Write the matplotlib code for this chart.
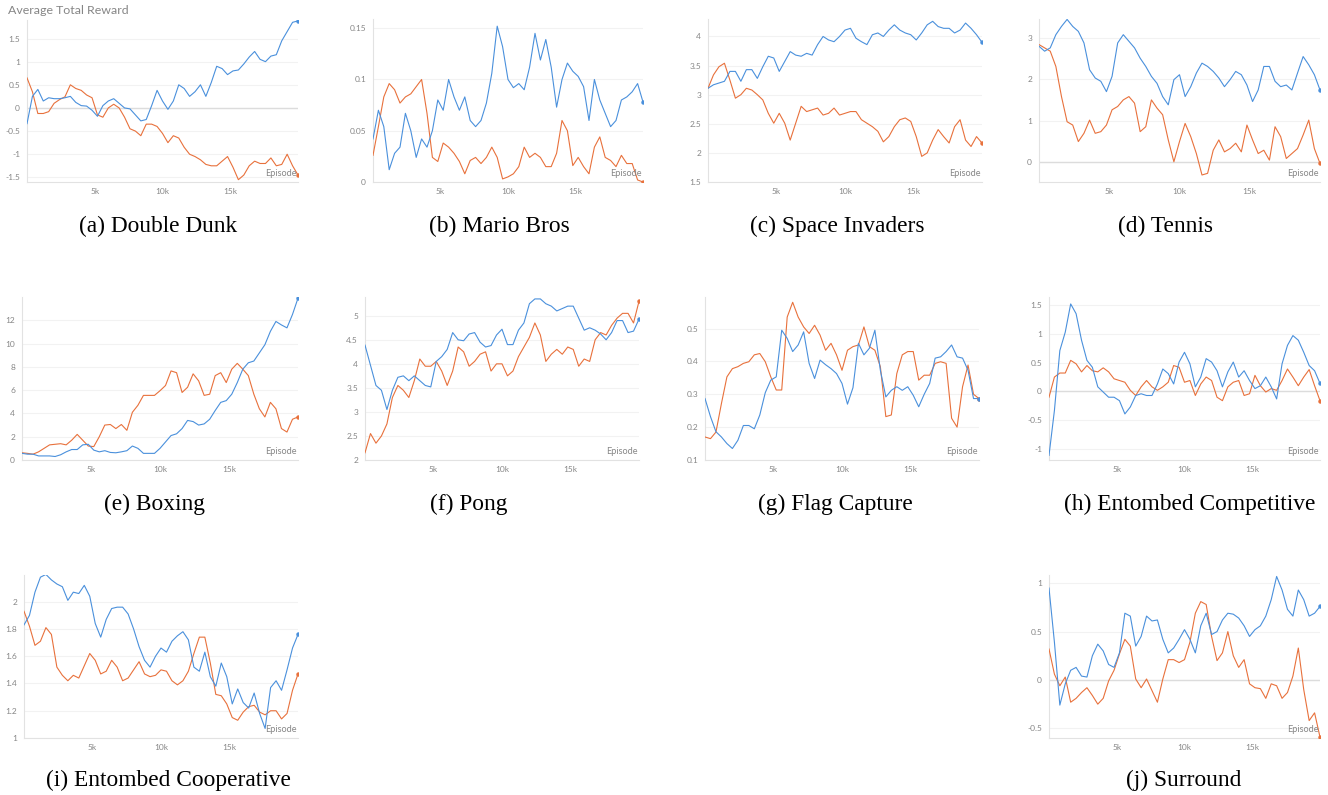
import matplotlib.pyplot as plt
import numpy as np

# episode axis shared by all runs (one logged point every 400 episodes)
episodes = np.arange(0, 20001, 400)

double_dunk_blue = [-0.34, 0.25, 0.40, 0.15, 0.22, 0.20, 0.20, 0.22, 0.25, 0.12,
                    0.05, 0.04, -0.05, -0.18, 0.05, 0.15, 0.20, 0.10, 0.0, -0.02,
                    -0.15, -0.28, -0.25, 0.05, 0.38, 0.15, -0.03, 0.15, 0.50, 0.42,
                    0.25, 0.35, 0.50, 0.25, 0.55, 0.90, 0.85, 0.72, 0.80, 0.82,
                    0.95, 1.10, 1.22, 1.05, 1.00, 1.12, 1.15, 1.45, 1.65, 1.85, 1.88]
double_dunk_orange = [0.65, 0.35, -0.12, -0.12, -0.08, 0.10, 0.18, 0.24, 0.50, 0.42,
                      0.38, 0.28, 0.22, -0.15, -0.20, 0.0, 0.08, 0.0, -0.20, -0.45,
                      -0.50, -0.60, -0.35, -0.35, -0.40, -0.55, -0.75, -0.60, -0.65, -0.85,
                      -1.00, -1.05, -1.12, -1.22, -1.25, -1.25, -1.15, -1.05, -1.28, -1.55,
                      -1.45, -1.25, -1.15, -1.20, -1.20, -1.08, -1.25, -1.22, -1.00, -1.25, -1.45]

mario_blue = [0.042, 0.07, 0.054, 0.012, 0.028, 0.034, 0.067, 0.05, 0.024, 0.042,
              0.034, 0.05, 0.08, 0.07, 0.10, 0.083, 0.07, 0.083, 0.06, 0.054,
              0.06, 0.077, 0.106, 0.152, 0.132, 0.10, 0.092, 0.096, 0.09, 0.112,
              0.145, 0.119, 0.139, 0.112, 0.073, 0.10, 0.116, 0.108, 0.103, 0.093,
              0.06, 0.10, 0.08, 0.067, 0.054, 0.06, 0.08, 0.083, 0.088, 0.096, 0.078]
mario_orange = [0.026, 0.054, 0.083, 0.096, 0.09, 0.077, 0.083, 0.086, 0.093, 0.10,
                0.067, 0.024, 0.02, 0.038, 0.034, 0.028, 0.02, 0.008, 0.021, 0.024,
                0.018, 0.024, 0.034, 0.024, 0.003, 0.005, 0.008, 0.015, 0.034, 0.024,
                0.028, 0.024, 0.015, 0.015, 0.028, 0.06, 0.05, 0.016, 0.024, 0.015,
                0.008, 0.034, 0.044, 0.024, 0.021, 0.015, 0.026, 0.018, 0.018, 0.002, 0.0]

invaders_blue = [3.11, 3.17, 3.20, 3.23, 3.40, 3.40, 3.23, 3.43, 3.43, 3.28,
                 3.48, 3.66, 3.63, 3.40, 3.57, 3.74, 3.68, 3.66, 3.71, 3.68,
                 3.86, 4.00, 3.94, 3.91, 4.00, 4.11, 4.14, 3.97, 3.91, 3.86,
                 4.03, 4.06, 4.00, 4.11, 4.20, 4.11, 4.06, 4.03, 3.94, 4.06,
                 4.20, 4.26, 4.17, 4.14, 4.14, 4.06, 4.11, 4.23, 4.14, 4.03, 3.90]
invaders_orange = [3.11, 3.34, 3.48, 3.54, 3.25, 2.94, 3.00, 3.11, 3.08, 3.00,
                   2.91, 2.68, 2.51, 2.68, 2.51, 2.22, 2.51, 2.80, 2.71, 2.74,
                   2.77, 2.65, 2.68, 2.77, 2.65, 2.68, 2.71, 2.71, 2.57, 2.51,
                   2.45, 2.37, 2.19, 2.28, 2.45, 2.57, 2.60, 2.54, 2.28, 1.94,
                   2.00, 2.22, 2.40, 2.28, 2.17, 2.45, 2.57, 2.22, 2.11, 2.28, 2.17]

tennis_blue = [2.80, 2.68, 2.76, 3.08, 3.28, 3.45, 3.28, 3.16, 2.88, 2.23,
               2.03, 1.95, 1.70, 2.07, 2.88, 3.08, 2.92, 2.76, 2.51, 2.31,
               2.07, 1.90, 1.58, 1.38, 1.99, 2.11, 1.58, 1.82, 2.15, 2.39,
               2.31, 2.19, 2.03, 1.82, 1.99, 2.19, 2.11, 1.86, 1.46, 1.74,
               2.31, 2.31, 1.95, 1.82, 1.86, 1.74, 2.15, 2.55, 2.35, 2.11, 1.74]
tennis_orange = [2.84, 2.76, 2.68, 2.31, 1.58, 0.97, 0.89, 0.49, 0.69, 1.01,
                 0.69, 0.73, 0.89, 1.26, 1.34, 1.50, 1.58, 1.42, 0.73, 0.85,
                 1.50, 1.30, 1.14, 0.53, 0.00, 0.49, 0.93, 0.61, 0.20, -0.32,
                 -0.28, 0.28, 0.53, 0.24, 0.32, 0.45, 0.24, 0.89, 0.53, 0.20,
                 0.28, 0.04, 0.85, 0.61, 0.08, 0.20, 0.32, 0.65, 1.01, 0.32, -0.04]

boxing_blue = [0.57, 0.5, 0.5, 0.35, 0.35, 0.35, 0.3, 0.45, 0.7, 0.9,
               0.9, 1.3, 1.35, 0.85, 0.7, 0.8, 0.65, 0.62, 0.7, 0.8,
               1.2, 1.0, 0.57, 0.57, 0.57, 1.0, 1.55, 2.1, 2.25, 2.7,
               3.4, 3.3, 3.0, 3.1, 3.5, 4.25, 4.95, 5.1, 5.65, 6.65,
               7.8, 8.35, 8.5, 9.2, 9.9, 11.05, 11.9, 11.6, 11.35, 12.5, 13.9]
boxing_orange = [0.62, 0.57, 0.5, 0.7, 1.0, 1.3, 1.35, 1.4, 1.3, 1.7,
                 2.2, 1.7, 1.2, 1.15, 2.0, 3.0, 3.05, 2.7, 3.05, 2.55,
                 4.1, 4.7, 5.55, 5.55, 5.55, 5.95, 6.4, 7.65, 7.5, 5.8,
                 6.25, 7.4, 6.8, 5.55, 5.65, 7.25, 7.5, 6.65, 7.8, 8.3,
                 7.8, 7.25, 5.65, 4.4, 3.7, 4.95, 4.4, 2.7, 2.4, 3.5, 3.7]

pong_blue = [4.39, 3.97, 3.55, 3.45, 3.05, 3.45, 3.72, 3.75, 3.65, 3.75,
             3.65, 3.55, 3.52, 4.05, 4.15, 4.30, 4.65, 4.50, 4.48, 4.62,
             4.65, 4.45, 4.35, 4.38, 4.60, 4.72, 4.40, 4.40, 4.70, 4.85,
             5.25, 5.35, 5.35, 5.25, 5.20, 5.10, 5.15, 5.20, 5.20, 4.95,
             4.70, 4.75, 4.70, 4.62, 4.50, 4.65, 4.90, 4.90, 4.65, 4.68, 4.93]
pong_orange = [2.15, 2.55, 2.35, 2.50, 2.75, 3.30, 3.55, 3.45, 3.30, 3.65,
               4.10, 3.95, 3.95, 4.05, 3.85, 3.55, 3.85, 4.35, 4.25, 3.95,
               4.05, 4.20, 4.25, 3.85, 4.00, 4.00, 3.75, 3.85, 4.15, 4.35,
               4.55, 4.85, 4.60, 4.05, 4.20, 4.30, 4.20, 4.35, 4.30, 3.95,
               4.10, 4.05, 4.50, 4.65, 4.60, 4.80, 4.95, 5.05, 5.05, 4.85, 5.30]

flag_blue = [0.287, 0.232, 0.186, 0.17, 0.15, 0.135, 0.16, 0.205, 0.205, 0.195,
             0.237, 0.305, 0.343, 0.353, 0.495, 0.47, 0.43, 0.45, 0.49, 0.394,
             0.348, 0.404, 0.39, 0.378, 0.363, 0.333, 0.27, 0.32, 0.455, 0.42,
             0.44, 0.495, 0.373, 0.292, 0.312, 0.323, 0.312, 0.323, 0.297, 0.262,
             0.30, 0.333, 0.41, 0.414, 0.43, 0.45, 0.414, 0.41, 0.373, 0.287, 0.287]
flag_orange = [0.17, 0.165, 0.185, 0.272, 0.353, 0.378, 0.384, 0.394, 0.399, 0.42,
               0.424, 0.399, 0.353, 0.313, 0.313, 0.535, 0.58, 0.535, 0.505, 0.485,
               0.51, 0.48, 0.434, 0.455, 0.42, 0.373, 0.434, 0.445, 0.45, 0.505,
               0.445, 0.434, 0.384, 0.232, 0.237, 0.363, 0.42, 0.43, 0.43, 0.343,
               0.358, 0.358, 0.394, 0.399, 0.394, 0.227, 0.20, 0.323, 0.389, 0.30, 0.287]

ent_comp_blue = [-1.11, -0.33, 0.71, 1.03, 1.52, 1.35, 0.89, 0.54, 0.42, 0.08,
                 -0.01, -0.10, -0.10, -0.16, -0.39, -0.27, -0.07, -0.04, -0.07, -0.07,
                 0.13, 0.39, 0.31, 0.13, 0.51, 0.68, 0.48, 0.08, 0.25, 0.57,
                 0.51, 0.36, 0.08, 0.34, 0.51, 0.25, 0.36, 0.19, 0.05, 0.10,
                 0.25, 0.08, -0.13, 0.48, 0.80, 0.97, 0.89, 0.68, 0.45, 0.36, 0.14]
ent_comp_orange = [-0.10, 0.25, 0.32, 0.32, 0.54, 0.48, 0.34, 0.45, 0.36, 0.34,
                   0.41, 0.34, 0.22, 0.19, 0.16, 0.02, -0.07, 0.08, 0.19, 0.08,
                   0.02, 0.08, 0.16, 0.45, 0.42, 0.16, 0.19, -0.07, 0.13, 0.25,
                   0.19, -0.10, -0.16, 0.08, 0.16, 0.19, -0.07, -0.04, 0.28, 0.10,
                   -0.01, 0.05, 0.02, 0.19, 0.39, 0.25, 0.10, 0.25, 0.38, 0.10, -0.16]

ent_coop_blue = [1.83, 1.90, 2.07, 2.18, 2.20, 2.16, 2.13, 2.11, 2.01, 2.07,
                 2.06, 2.12, 2.04, 1.84, 1.74, 1.87, 1.95, 1.96, 1.96, 1.91,
                 1.80, 1.67, 1.57, 1.52, 1.60, 1.66, 1.63, 1.71, 1.75, 1.78,
                 1.72, 1.52, 1.49, 1.63, 1.45, 1.38, 1.55, 1.45, 1.25, 1.36,
                 1.26, 1.22, 1.33, 1.18, 1.07, 1.37, 1.42, 1.35, 1.50, 1.66, 1.76]
ent_coop_orange = [1.93, 1.82, 1.68, 1.71, 1.81, 1.76, 1.52, 1.46, 1.42, 1.46,
                   1.44, 1.53, 1.62, 1.57, 1.47, 1.49, 1.57, 1.52, 1.42, 1.44,
                   1.50, 1.56, 1.47, 1.45, 1.46, 1.50, 1.49, 1.42, 1.39, 1.42,
                   1.49, 1.62, 1.74, 1.74, 1.55, 1.32, 1.31, 1.25, 1.15, 1.13,
                   1.19, 1.23, 1.24, 1.19, 1.17, 1.20, 1.20, 1.14, 1.18, 1.35, 1.47]

surround_blue = [0.95, 0.39, -0.26, -0.04, 0.10, 0.13, 0.04, 0.03, 0.25, 0.37,
                 0.30, 0.16, 0.13, 0.28, 0.69, 0.66, 0.35, 0.45, 0.66, 0.61,
                 0.62, 0.42, 0.28, 0.33, 0.42, 0.52, 0.42, 0.28, 0.56, 0.69,
                 0.47, 0.50, 0.62, 0.69, 0.68, 0.64, 0.56, 0.45, 0.52, 0.56,
                 0.66, 0.83, 1.07, 0.93, 0.73, 0.66, 0.93, 0.83, 0.66, 0.69, 0.76]
surround_orange = [0.32, 0.06, -0.06, 0.03, -0.23, -0.19, -0.13, -0.08, -0.16, -0.25,
                   -0.19, -0.01, 0.10, 0.27, 0.42, 0.35, 0.01, -0.08, 0.01, -0.11,
                   -0.23, 0.01, 0.21, 0.21, 0.18, 0.21, 0.39, 0.69, 0.81, 0.78,
                   0.45, 0.20, 0.28, 0.50, 0.25, 0.13, 0.21, -0.04, -0.08, -0.09,
                   -0.19, -0.04, -0.06, -0.19, -0.13, 0.04, 0.33, -0.10, -0.42, -0.34, -0.59]

captions = ["(a) Double Dunk", "(b) Mario Bros", "(c) Space Invaders", "(d) Tennis",
            "(e) Boxing", "(f) Pong", "(g) Flag Capture", "(h) Entombed Competitive",
            "(i) Entombed Cooperative", "(j) Surround"]
series = [(double_dunk_blue, double_dunk_orange), (mario_blue, mario_orange),
          (invaders_blue, invaders_orange), (tennis_blue, tennis_orange),
          (boxing_blue, boxing_orange), (pong_blue, pong_orange),
          (flag_blue, flag_orange), (ent_comp_blue, ent_comp_orange),
          (ent_coop_blue, ent_coop_orange), (surround_blue, surround_orange)]
ylims = [(-1.6, 1.9), (0, 0.159), (1.5, 4.3), (-0.49, 3.46), (0, 14.0),
         (2, 5.39), (0.1, 0.596), (-1.19, 1.64), (1.0, 2.196), (-0.6, 1.085)]
yticks = [np.arange(-1.5, 1.51, 0.5), [0, 0.05, 0.1, 0.15], np.arange(1.5, 4.01, 0.5),
          [0, 1, 2, 3], np.arange(0, 12.1, 2), np.arange(2, 5.01, 0.5),
          [0.1, 0.2, 0.3, 0.4, 0.5], np.arange(-1, 1.51, 0.5),
          [1, 1.2, 1.4, 1.6, 1.8, 2], [-0.5, 0, 0.5, 1]]

# layout in pixels: axes box (left, top, right, bottom) and caption centre
W, H = 1328, 795
boxes = [(27, 20, 298, 182), (373, 19, 643, 182), (708, 19, 982, 182), (1039, 19, 1320, 182),
         (22, 297, 298, 460), (365, 297, 639, 460), (705, 297, 979, 460), (1049, 297, 1320, 460),
         (24, 575, 298, 738), (1049, 575, 1320, 738)]
cap_pos = [(158, 226), (499, 226), (837, 226), (1166, 226),
           (155, 504), (469, 504), (835, 504), (1190, 504),
           (168, 780), (1184, 780)]

BLUE = "#4a90dc"
ORANGE = "#e8713c"
GREY = "#868686"

fig = plt.figure(figsize=(W / 100, H / 100), dpi=100)

for i in range(10):
    l, t, r, b = boxes[i]
    ax = fig.add_axes([l / W, 1 - b / H, (r - l) / W, (b - t) / H])
    blue, orange = series[i]
    ax.plot(episodes, orange, color=ORANGE, lw=0.8, zorder=3)
    ax.plot(episodes, blue, color=BLUE, lw=0.8, zorder=3)
    ax.plot(episodes[-1], orange[-1], "o", ms=2.2, color=ORANGE, zorder=4)
    ax.plot(episodes[-1], blue[-1], "o", ms=2.2, color=BLUE, zorder=4)

    ax.set_xlim(0, 20000)
    ax.set_ylim(*ylims[i])
    ax.set_xticks([5000, 10000, 15000])
    ax.set_xticklabels(["5k", "10k", "15k"])
    ax.set_yticks(yticks[i])
    ax.set_yticklabels([f"{round(v, 6):g}" for v in yticks[i]])
    ax.tick_params(length=0, labelsize=6, labelcolor=GREY)
    ax.tick_params(axis="x", pad=4)
    ax.tick_params(axis="y", pad=5)
    for lab in ax.get_xticklabels() + ax.get_yticklabels():
        lab.set_family("Lato")

    for s in ["top", "right"]:
        ax.spines[s].set_visible(False)
    for s in ["left", "bottom"]:
        ax.spines[s].set_color("#e2e2e2")
        ax.spines[s].set_linewidth(0.8)
    ax.yaxis.grid(True, color="#f2f2f2", lw=0.8)
    ax.set_axisbelow(True)
    lo, hi = ylims[i]
    if lo < 0 < hi:
        ax.axhline(0, color="#dcdcdc", lw=1.0, zorder=1)

    ax.text(0.995, 0.025, "Episode", transform=ax.transAxes, ha="right", va="bottom",
            fontsize=6.6, color=GREY, family="Lato", zorder=5)

    cx, cy = cap_pos[i]
    fig.text(cx / W, 1 - cy / H, captions[i], ha="center", va="center",
             fontsize=16.8, family="Liberation Serif")

fig.text(8 / W, 1 - 10 / H, "Average Total Reward", ha="left", va="center",
         fontsize=8.9, color=GREY, family="Lato")

fig.savefig("out.png", dpi=100)
